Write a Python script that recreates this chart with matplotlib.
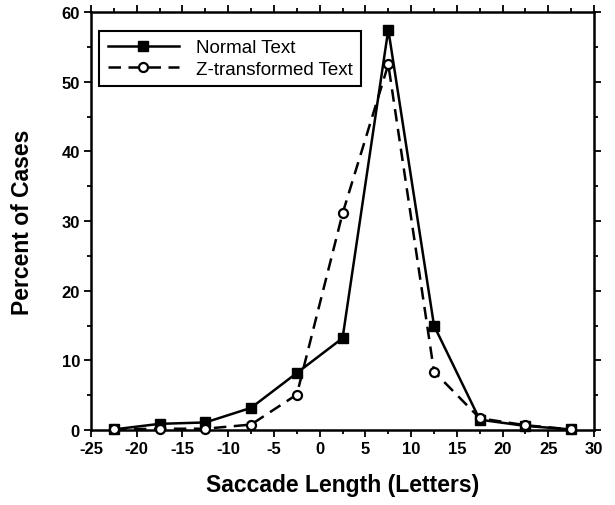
import matplotlib.pyplot as plt
from matplotlib.ticker import MultipleLocator

# Saccade length bins (centres) and percentages
saccade_len = [-22.5, -17.5, -12.5, -7.5, -2.5, 2.5, 7.5, 12.5, 17.5, 22.5, 27.5]
normal_text = [0.1, 0.9, 1.1, 3.2, 8.2, 13.2, 57.5, 15.0, 1.5, 0.6, 0.1]
z_text = [0.1, 0.2, 0.2, 0.8, 5.1, 31.1, 52.5, 8.4, 1.7, 0.7, 0.1]

plt.rcParams['font.family'] = 'Liberation Sans'
plt.rcParams['axes.unicode_minus'] = False

fig = plt.figure(figsize=(6.15, 5.06), dpi=100)
ax = fig.add_axes([0.148, 0.148, 0.818, 0.826])

ax.plot(saccade_len, normal_text, color='black', lw=1.8, marker='s', ms=7.5,
        mfc='black', mec='black', label='Normal Text', clip_on=False, zorder=3)
ax.plot(saccade_len, z_text, color='black', lw=1.8, ls=(0, (5, 3)), marker='o', ms=6.5,
        mfc='white', mec='black', mew=1.6, label='Z-transformed Text', clip_on=False, zorder=4)

ax.set_xlim(-25, 30)
ax.set_ylim(0, 60)
ax.xaxis.set_major_locator(MultipleLocator(5))
ax.xaxis.set_minor_locator(MultipleLocator(2.5))
ax.yaxis.set_major_locator(MultipleLocator(10))
ax.yaxis.set_minor_locator(MultipleLocator(5))
ax.tick_params(which='both', direction='out', top=True, right=True, width=1.3)
ax.tick_params(which='major', length=5, labelsize=12, pad=3)
ax.tick_params(which='minor', length=3)
for lab in ax.get_xticklabels() + ax.get_yticklabels():
    lab.set_fontweight('bold')
for s in ax.spines.values():
    s.set_linewidth(1.8)

ax.set_xlabel('Saccade Length (Letters)', fontsize=16.5, fontweight='bold', va='center')
ax.xaxis.set_label_coords(0.5, -0.13)
ax.set_ylabel('Percent of Cases', fontsize=16.5, fontweight='bold', va='center')
ax.yaxis.set_label_coords(-0.137, 0.5)

leg = ax.legend(loc='upper left', bbox_to_anchor=(0.016, 0.956), fontsize=13.5,
                handlelength=3.8, handletextpad=0.9, borderpad=0.45, labelspacing=0.25,
                borderaxespad=0, fancybox=False, framealpha=1, edgecolor='black')
leg.get_frame().set_linewidth(1.5)

fig.savefig('out.png', dpi=100)
